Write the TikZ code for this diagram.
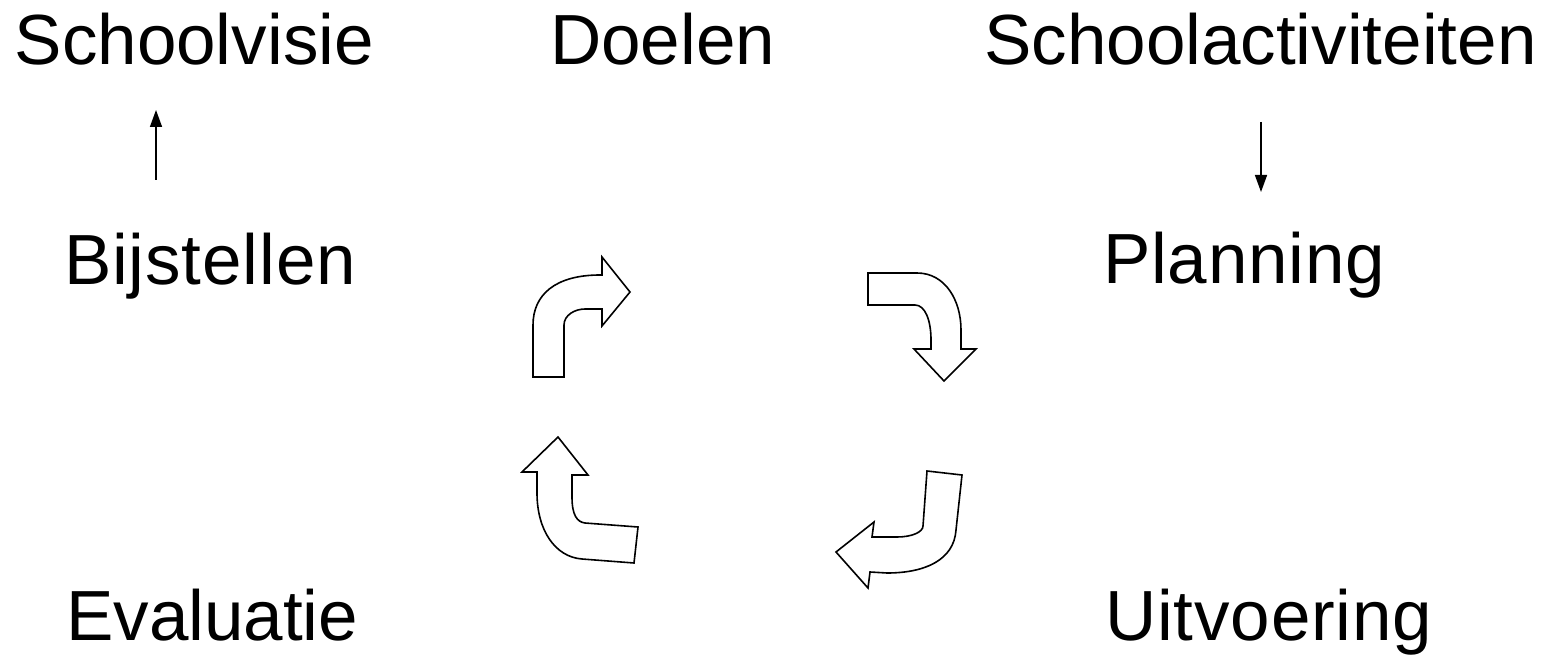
\documentclass[tikz,border=0pt]{standalone}
\usepackage{fontspec}
\setmainfont{Liberation Sans}
\usetikzlibrary{arrows.meta}
\begin{document}
\begin{tikzpicture}[x=1pt,y=-1pt,
  lbl/.style={anchor=base west,inner sep=0pt,font=\fontsize{71}{82}\selectfont},
  wide/.style={font=\fontsize{71}{82}\selectfont\addfontfeature{LetterSpace=1.2}},
  conn/.style={line width=1.5pt,-{Triangle[length=17pt,width=12pt]}},
  bentarrow/.style={draw,line width=1.6pt,fill=white,line join=miter}]
\useasboundingbox (0,0) rectangle (1566,660);
\node[lbl] (sv) at (14.5,65) {Schoolvisie};
\node[lbl] (doel) at (550,65) {Doelen};
\node[lbl] (sa) at (984,65) {Schoolactiviteiten};
\node[lbl,wide] (bij) at (64,285) {Bijstellen};
\node[lbl,wide] (plan) at (1103,284) {Planning};
\node[lbl] (eval) at (66,640) {Evaluatie};
\node[lbl,wide] (uit) at (1105,640) {Uitvoering};
\coordinate (a1s) at (156,180);
\coordinate (a1e) at (156,110);
\coordinate (a2s) at (1261,122);
\coordinate (a2e) at (1261,192);
\draw[conn] (a1s) -- (a1e);
\draw[conn] (a2s) -- (a2e);
% top-left curved arrow
\draw[bentarrow] (533,377) -- (533,325) .. controls (533,295) and (555,275) .. (600,275) -- (602,275) -- (602,257) -- (630,292) -- (602,326) -- (602,309) -- (585,309) .. controls (575,309) and (564,315) .. (564,325) -- (564,377) -- cycle;
% top-right curved arrow
\draw[bentarrow] (868,273) -- (917,273) .. controls (945,273) and (961,300) .. (961,330) -- (961,349) -- (976,349) -- (944,381) -- (914,349) -- (931,349) -- (931,340) .. controls (931,320) and (925,305) .. (915,305) -- (868,305) -- cycle;
% bottom-right curved arrow
\draw[bentarrow] (927,471) -- (962,475) -- (956,530) .. controls (954,560) and (925,573) .. (887,573) -- (870,572) -- (868,588) -- (836,552) -- (874,522) -- (872,537) -- (897,537) .. controls (912,537) and (923,532) .. (923,526) -- cycle;
% bottom-left curved arrow
\draw[bentarrow] (558,437) -- (588,475) -- (572,475) -- (572,497) .. controls (572,515) and (577,522) .. (585,523) -- (638,527) -- (634,563) -- (582,559) .. controls (555,557) and (537,530) .. (537,493) -- (537,472) -- (522,472) -- cycle;
\end{tikzpicture}
\end{document}
